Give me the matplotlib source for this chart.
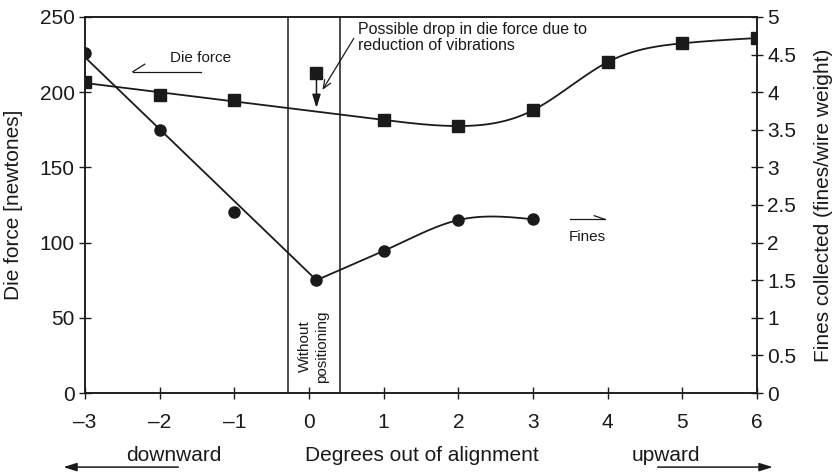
import numpy as np
import matplotlib
matplotlib.use("Agg")
import matplotlib.pyplot as plt
from matplotlib.ticker import FuncFormatter

plt.rcParams["font.family"] = ["Liberation Sans", "DejaVu Sans"]

# data
degrees = [-3, -2, -1, 1, 2, 3, 4, 5, 6]
die_force = [207, 198, 195, 181.5, 177.5, 188, 220, 232.5, 236]   # newtones
no_pos_x = 0.1
no_pos_force = 213          # die force without positioning
no_pos_drop = 189.5         # possible value after the drop

fines_x = [-3, -2, -1, 0.1, 1, 2, 3]
fines = [4.52, 3.5, 2.41, 1.5, 1.89, 2.30, 2.31]   # fines/wire weight

band = [-0.28, 0.42]
x_ticks = [-3, -2, -1, 0, 1, 2, 3, 4, 5, 6]
left_ticks = [0, 50, 100, 150, 200, 250]
right_ticks = [0, 0.5, 1, 1.5, 2, 2.5, 3, 3.5, 4, 4.5, 5]


def spline(xs, ys, slope0, n=200):
    # cubic spline, clamped at the start, natural at the end
    xs = np.asarray(xs, float)
    ys = np.asarray(ys, float)
    k = len(xs)
    h = np.diff(xs)
    A = np.zeros((k, k))
    b = np.zeros(k)
    A[0, 0] = 2 * h[0]
    A[0, 1] = h[0]
    b[0] = 6 * ((ys[1] - ys[0]) / h[0] - slope0)
    for i in range(1, k - 1):
        A[i, i - 1] = h[i - 1]
        A[i, i] = 2 * (h[i - 1] + h[i])
        A[i, i + 1] = h[i]
        b[i] = 6 * ((ys[i + 1] - ys[i]) / h[i] - (ys[i] - ys[i - 1]) / h[i - 1])
    A[-1, -1] = 1
    M = np.linalg.solve(A, b)
    t = np.linspace(xs[0], xs[-1], n)
    idx = np.clip(np.searchsorted(xs, t) - 1, 0, k - 2)
    x0, x1 = xs[idx], xs[idx + 1]
    hh = x1 - x0
    y = (M[idx] * (x1 - t) ** 3 / (6 * hh) + M[idx + 1] * (t - x0) ** 3 / (6 * hh)
         + (ys[idx] / hh - M[idx] * hh / 6) * (x1 - t)
         + (ys[idx + 1] / hh - M[idx + 1] * hh / 6) * (t - x0))
    return t, y


fig = plt.figure(figsize=(8.36, 4.73), dpi=100)
ax = fig.add_axes([0.1017, 0.1691, 0.9055 - 0.1017, 0.9641 - 0.1691])
ax2 = ax.twinx()

ink = "#1a1a1a"

# die force: straight fit up to x=1, then smooth curve
dx = np.array(degrees[:4], float)
dy = np.array(die_force[:4], float)
slope, icpt = np.polyfit(dx, dy, 1)
ax.plot([dx[0], dx[-1]], [slope * dx[0] + icpt, slope * dx[-1] + icpt], color=ink, lw=1.3)
sx = [dx[-1]] + degrees[4:]
sy = [slope * dx[-1] + icpt] + die_force[4:]
t, y = spline(sx, sy, slope)
ax.plot(t, y, color=ink, lw=1.3)
ax.plot(degrees, die_force, "s", color=ink, ms=8)
ax.plot([no_pos_x], [no_pos_force], "s", color=ink, ms=8)
ax.annotate("", xy=(no_pos_x, no_pos_drop), xytext=(no_pos_x, no_pos_force - 4),
            arrowprops=dict(arrowstyle="-|>,head_length=0.8,head_width=0.25",
                            color=ink, lw=1.1, shrinkA=0, shrinkB=0))

# fines: fit line through the minimum, then straight, then smooth curve
fx = np.array(fines_x, float)
fy = np.array(fines, float)
ddx = fx[:3] - fx[3]
ddy = fy[:3] - fy[3]
fslope = np.sum(ddx * ddy) / np.sum(ddx ** 2)
ax2.plot([fx[0], fx[3]], [fy[3] + fslope * (fx[0] - fx[3]), fy[3]], color=ink, lw=1.3)
ax2.plot(fx[3:5], fy[3:5], color=ink, lw=1.3)
s2 = (fy[4] - fy[3]) / (fx[4] - fx[3])
t, y = spline(fx[4:], fy[4:], s2)
ax2.plot(t, y, color=ink, lw=1.3)
ax2.plot(fines_x, fines, "o", color=ink, ms=8)

# band for "without positioning"
for b in band:
    ax.axvline(b, color=ink, lw=1.1)
ax.text(np.mean(band) - 0.01, 31, "Without\npositioning", rotation=90, ha="center",
        va="center", multialignment="center", fontsize=11, color=ink)

# annotations
ax.text(0.66, 236.4, "Possible drop in die force due to\nreduction of vibrations",
        ha="left", va="center", fontsize=11.5, color=ink, linespacing=1.1)
ax.annotate("", xy=(0.18, 201.5), xytext=(0.60, 235.8),
            arrowprops=dict(arrowstyle="->,head_length=0.6,head_width=0.25",
                            color=ink, lw=0.9, shrinkA=0, shrinkB=0))

ax.text(-1.45, 222.7, "Die force", ha="center", va="center", fontsize=11, color=ink)
ax.plot([-1.44, -2.36], [213.6, 213.6], color=ink, lw=0.9)
ax.plot([-2.36, -2.20], [213.6, 218.6], color=ink, lw=0.9)

ax.text(3.73, 103.7, "Fines", ha="center", va="center", fontsize=11, color=ink)
ax.plot([3.50, 3.96], [115.5, 115.5], color=ink, lw=0.9)
ax.plot([3.96, 3.82], [115.5, 117.9], color=ink, lw=0.9)

# axes
ax.set_xlim(-3, 6)
ax.set_ylim(0, 250)
ax2.set_ylim(0, 5)
ax.set_xticks(x_ticks)
ax.set_yticks(left_ticks)
ax2.set_yticks(right_ticks)
ax.xaxis.set_major_formatter(FuncFormatter(lambda v, p: f"\u2013{abs(v):g}" if v < 0 else f"{v:g}"))
ax2.yaxis.set_major_formatter(FuncFormatter(lambda v, p: f"{v:g}"))

for a in (ax, ax2):
    for s in a.spines.values():
        s.set_linewidth(1.1)
        s.set_color(ink)
ax.tick_params(axis="y", direction="inout", length=9, width=1, labelsize=15, pad=3, colors=ink)
ax.tick_params(axis="x", direction="inout", length=9, width=1, labelsize=15, pad=10, colors=ink)
ax2.tick_params(axis="y", direction="inout", length=9, width=1, labelsize=15, pad=3, colors=ink)

ax.set_ylabel("Die force [newtones]", fontsize=15, color=ink)
ax.yaxis.set_label_coords(-0.092, 0.5)
ax2.set_ylabel("Fines collected (fines/wire weight)", fontsize=15, color=ink)
ax2.yaxis.set_label_coords(1.085, 0.5)

xt = ax.get_xaxis_transform()
ax.text(1.51, -0.142, "Degrees out of alignment", transform=xt, ha="center", va="top",
        fontsize=15, color=ink)
ax.text(-1.81, -0.142, "downward", transform=xt, ha="center", va="top", fontsize=15, color=ink)
ax.text(4.78, -0.142, "upward", transform=xt, ha="center", va="top", fontsize=15, color=ink)
arrow = dict(arrowstyle="-|>,head_length=0.8,head_width=0.25", color=ink, lw=1.1,
             shrinkA=0, shrinkB=0)
ax.annotate("", xy=(-3.29, -0.197), xytext=(-1.75, -0.197), xycoords=xt,
            arrowprops=arrow, annotation_clip=False)
ax.annotate("", xy=(6.21, -0.197), xytext=(4.67, -0.197), xycoords=xt,
            arrowprops=arrow, annotation_clip=False)

fig.savefig("out.png", dpi=100)
